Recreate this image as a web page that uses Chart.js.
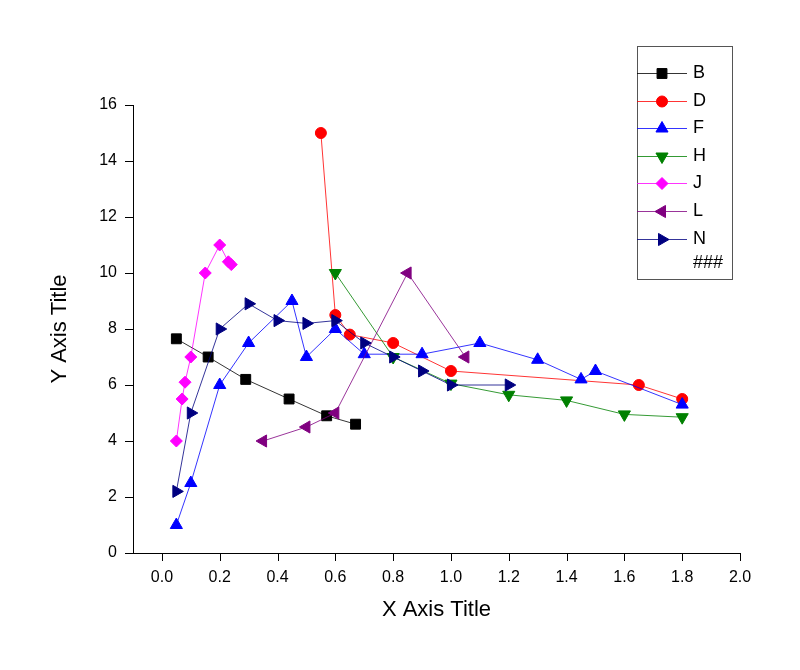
<!DOCTYPE html>
<html>
<head>
<meta charset="utf-8">
<script src="https://cdn.jsdelivr.net/npm/chart.js@4.4.6/dist/chart.umd.min.js"></script>
<style>
  html, body { margin: 0; padding: 0; background: #fff; }
  #wrap { width: 800px; height: 670px; position: relative; }
</style>
</head>
<body>
<div id="wrap"><canvas id="chart"></canvas></div>
<script>
// values
const bX = [0.05, 0.16, 0.29, 0.44, 0.57, 0.67]
const bY = [7.65, 7.0, 6.2, 5.5, 4.9, 4.6]
const dX = [0.55, 0.6, 0.65, 0.8, 1.0, 1.65, 1.8]
const dY = [15, 8.5, 7.8, 7.5, 6.5, 6.0, 5.5]
const fX = [0.05, 0.1, 0.2, 0.3, 0.45, 0.5, 0.6, 0.7, 0.9, 1.1, 1.3, 1.45, 1.5, 1.8]
const fY = [1, 2.5, 6, 7.5, 9, 7, 8, 7.1, 7.1, 7.5, 6.9, 6.2, 6.5, 5.3]
const hX = [0.6, 0.8, 1.0, 1.2, 1.4, 1.6, 1.8]
const hY = [10, 7, 6.05, 5.65, 5.45, 4.95, 4.85]
const jX = [0.05, 0.07, 0.08, 0.1, 0.15, 0.2, 0.23, 0.24]
const jY = [4, 5.5, 6.1, 7, 10, 11, 10.4, 10.3]
const lX = [0.35, 0.5, 0.6, 0.85, 1.05]
const lY = [4, 4.5, 5, 10, 7]
const nX = [0.05, 0.1, 0.2, 0.3, 0.4, 0.5, 0.6, 0.7, 0.8, 0.9, 1.0, 1.2]
const nY = [2.2, 5, 8, 8.9, 8.3, 8.2, 8.3, 7.5, 7, 6.5, 6, 6]

const seriesNames = ["B", "D", "F", "H", "J", "L", "N"]
const extraLegendText = "###"

const FONT = "'Liberation Sans', Arial, sans-serif"

const zip = (xs, ys) => xs.map((x, i) => ({ x, y: ys[i] }))

function series(label, xs, ys, color, style, rotation, radius, order) {
  return {
    label,
    data: zip(xs, ys),
    showLine: true,
    borderColor: color,
    backgroundColor: color,
    borderWidth: 0.8,
    pointStyle: style,
    rotation,
    pointRadius: radius,
    pointBorderWidth: 1,
    pointBackgroundColor: color,
    pointBorderColor: color,
    order
  }
}

const datasets = [
  series(seriesNames[0], bX, bY, "#000000", "rect", 0, 7, 7),
  series(seriesNames[1], dX, dY, "#ff0000", "circle", 0, 5.5, 6),
  series(seriesNames[2], fX, fY, "#0000ff", "triangle", 0, 7, 5),
  series(seriesNames[3], hX, hY, "#008000", "triangle", 180, 7, 4),
  series(seriesNames[4], jX, jY, "#ff00ff", "rectRot", 0, 6, 3),
  series(seriesNames[5], lX, lY, "#800080", "triangle", 270, 7, 2),
  series(seriesNames[6], nX, nY, "#000080", "triangle", 90, 7, 1)
]

// Origin-style outward ticks: long major, short minor
const tickMarks = {
  id: "tickMarks",
  afterDraw(chart) {
    const { ctx, scales: { x, y } } = chart
    ctx.save()
    ctx.strokeStyle = "#000"
    ctx.lineWidth = 1
    ctx.beginPath()
    x.ticks.forEach((t) => {
      const major = Math.round(t.value * 10) % 2 === 0
      const px = Math.round(x.getPixelForValue(t.value)) + 0.5
      ctx.moveTo(px, x.top)
      ctx.lineTo(px, x.top + (major ? 8 : 4))
    })
    y.ticks.forEach((t) => {
      const major = Math.round(t.value) % 2 === 0
      const py = Math.round(y.getPixelForValue(t.value)) + 0.5
      ctx.moveTo(y.right, py)
      ctx.lineTo(y.right - (major ? 8 : 4), py)
    })
    ctx.stroke()
    ctx.restore()
  }
}

// boxed legend drawn inside the plot, as in the reference
const boxLegend = {
  id: "boxLegend",
  afterDraw(chart) {
    const { ctx } = chart
    const left = 637, top = 46, right = 732, bottom = 279
    const rowTop = 73, rowGap = 27.6
    ctx.save()
    ctx.strokeStyle = "#555"
    ctx.lineWidth = 1
    ctx.strokeRect(left + 0.5, top + 0.5, right - left, bottom - top)
    ctx.font = "18px " + FONT
    ctx.textBaseline = "middle"
    chart.data.datasets.forEach((ds, i) => {
      const yy = Math.round(rowTop + i * rowGap) + 0.5
      ctx.strokeStyle = ds.borderColor
      ctx.lineWidth = 0.8
      ctx.beginPath()
      ctx.moveTo(left, yy)
      ctx.lineTo(687, yy)
      ctx.stroke()
      ctx.lineWidth = 1
      ctx.fillStyle = ds.backgroundColor
      Chart.helpers.drawPoint(ctx, {
        pointStyle: ds.pointStyle,
        rotation: ds.rotation,
        radius: ds.pointRadius,
        borderWidth: 1
      }, 662, yy)
      ctx.fillStyle = "#000"
      ctx.fillText(ds.label, 693, yy)
    })
    ctx.fillStyle = "#000"
    ctx.fillText(extraLegendText, 693, rowTop + seriesNames.length * rowGap - 3)
    ctx.restore()
  }
}

new Chart(document.getElementById("chart"), {
  type: "scatter",
  data: { datasets },
  options: {
    responsive: true,
    maintainAspectRatio: false,
    animation: false,
    layout: { padding: { left: 0, top: 105, right: 60, bottom: 0 } },
    plugins: {
      legend: { display: false },
      tooltip: { enabled: false }
    },
    scales: {
      x: {
        type: "linear",
        min: -0.1,
        max: 2.0,
        afterFit: (s) => { s.height = 117 },
        grid: { display: false, drawTicks: false, tickLength: 0 },
        border: { display: true, color: "#000", width: 1 },
        ticks: {
          stepSize: 0.1,
          autoSkip: false,
          maxRotation: 0,
          padding: 15,
          color: "#000",
          font: { family: FONT, size: 16 },
          callback: (v) => {
            const k = Math.round(v * 10)
            return k >= 0 && k % 2 === 0 ? (k / 10).toFixed(1) : null
          }
        },
        title: {
          display: true,
          text: "X Axis Title",
          color: "#000",
          font: { family: FONT, size: 22 },
          padding: { top: 47, bottom: 47 }
        }
      },
      y: {
        type: "linear",
        min: 0,
        max: 16,
        afterFit: (s) => { s.width = 133 },
        grid: { display: false, drawTicks: false, tickLength: 0 },
        border: { display: true, color: "#000", width: 1 },
        ticks: {
          stepSize: 1,
          autoSkip: false,
          padding: 16,
          color: "#000",
          font: { family: FONT, size: 16 },
          callback: (v) => (Math.round(v) % 2 === 0 ? String(Math.round(v)) : null)
        },
        title: {
          display: true,
          text: "Y Axis Title",
          color: "#000",
          font: { family: FONT, size: 22 },
          padding: { top: 47, bottom: 47 }
        }
      }
    }
  },
  plugins: [tickMarks, boxLegend]
})
</script>
</body>
</html>
